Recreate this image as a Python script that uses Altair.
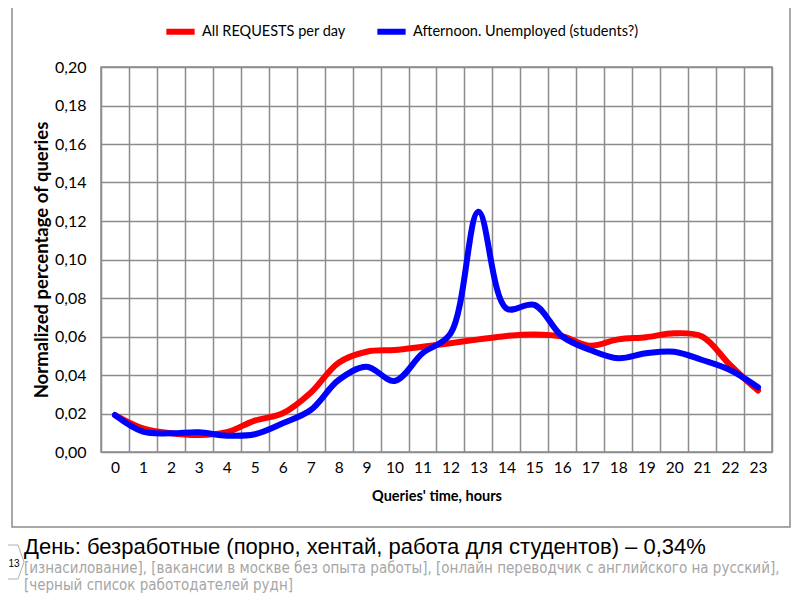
import altair as alt
import pandas as pd

hours = list(range(24))
series_names = ["All REQUESTS per day", "Afternoon. Unemployed (students?)"]
series_colors = ["#ff0000", "#0000ff"]
all_requests = [0.0192, 0.0123, 0.0097, 0.0088, 0.0103, 0.0163, 0.0201, 0.0308,
                0.0464, 0.0521, 0.0530, 0.0547, 0.0565, 0.0585, 0.0603, 0.0611,
                0.0600, 0.0552, 0.0585, 0.0596, 0.0617, 0.0600, 0.0452, 0.0319]
afternoon = [0.0192, 0.0106, 0.0097, 0.0102, 0.0085, 0.0092, 0.0149, 0.0218,
             0.0374, 0.0443, 0.0369, 0.0513, 0.0615, 0.1248, 0.0746, 0.0764,
             0.0600, 0.0530, 0.0487, 0.0513, 0.0521, 0.0478, 0.0426, 0.0336]
y_ticks = [0.0, 0.02, 0.04, 0.06, 0.08, 0.10, 0.12, 0.14, 0.16, 0.18, 0.20]

main_caption = "День: безработные (порно, хентай, работа для студентов) – 0,34%"
gray_line1 = "[изнасилование], [вакансии в москве без опыта работы], [онлайн переводчик с английского на русский],"
gray_line2 = "[черный список работодателей рудн]"
slide_number = "13"

df = pd.DataFrame({
    "hour": hours * 2,
    "value": all_requests + afternoon,
    "series": [series_names[0]] * 24 + [series_names[1]] * 24,
})

color_scale = alt.Scale(domain=series_names, range=series_colors)

x_enc = alt.X(
    "hour:O",
    bandPosition=0.5,
    scale=alt.Scale(type="band", paddingInner=0, paddingOuter=0),
    axis=alt.Axis(
        title="Queries' time, hours", titleFont="Lato", titleFontSize=14.5,
        titleFontWeight="bold", titleColor="#000", titlePadding=14,
        labelFont="Lato", labelFontSize=15.5, labelColor="#000", labelAngle=0,
        labelPadding=8, ticks=False, tickBand="extent", domain=False,
        grid=True, gridColor="#8c8c8c", gridWidth=1.5,
    ),
)
y_enc = alt.Y(
    "value:Q",
    scale=alt.Scale(domain=[0, 0.2], nice=False),
    axis=alt.Axis(
        title="Normalized percentage of queries", titleFont="Lato",
        titleFontSize=18.5, titleFontWeight="bold", titleColor="#000",
        titlePadding=3, values=y_ticks,
        labelExpr="replace(format(datum.value, '.2f'), '.', ',')",
        labelFont="Lato", labelFontSize=16, labelColor="#000", labelPadding=15,
        ticks=False, domain=False, grid=True, gridColor="#8c8c8c", gridWidth=1.5,
    ),
)
color_enc = alt.Color(
    "series:N", scale=color_scale,
    legend=alt.Legend(
        orient="none", legendX=62, legendY=-53, direction="horizontal",
        title=None, symbolType="stroke", symbolStrokeWidth=6, symbolSize=800,
        labelFont="Lato", labelFontSize=14.5, labelColor="#000", labelLimit=0,
        columnPadding=19, labelOffset=4,
    ),
)

base = alt.Chart(df)
red = base.transform_filter(alt.datum.series == series_names[0]).mark_line(
    strokeWidth=6, interpolate="catmull-rom", strokeCap="round", strokeJoin="round"
).encode(x=x_enc, y=y_enc, color=color_enc)
blue = base.transform_filter(alt.datum.series == series_names[1]).mark_line(
    strokeWidth=6, interpolate="catmull-rom", strokeCap="round", strokeJoin="round"
).encode(x=x_enc, y=y_enc, color=color_enc)

one = pd.DataFrame({"k": [0]})
frame = alt.Chart(one).mark_rect(fill=None, stroke="#8c8c8c", strokeWidth=1.5).encode(
    x=alt.value(-89), x2=alt.value(689), y=alt.value(-66), y2=alt.value(460)
)
cap_main = alt.Chart(one).mark_text(
    text=main_caption, align="left", baseline="middle", font="Liberation Sans",
    fontSize=22, color="#000"
).encode(x=alt.value(-77), y=alt.value(480))
cap_g1 = alt.Chart(one).mark_text(
    text=gray_line1, align="left", baseline="middle", font="DejaVu Sans Condensed",
    fontSize=15, color="#a6a6a6"
).encode(x=alt.value(-77), y=alt.value(501))
cap_g2 = alt.Chart(one).mark_text(
    text=gray_line2, align="left", baseline="middle", font="DejaVu Sans Condensed",
    fontSize=15, color="#a6a6a6"
).encode(x=alt.value(-77), y=alt.value(518))
num = alt.Chart(one).mark_text(
    text=slide_number, align="center", baseline="middle", font="Liberation Sans",
    fontSize=10, color="#000"
).encode(x=alt.value(-87), y=alt.value(497))

tab_style = dict(color="#b0b0b0", strokeWidth=1)
tab_top = alt.Chart(one).mark_rule(**tab_style).encode(
    x=alt.value(-93), x2=alt.value(-83), y=alt.value(478), y2=alt.value(478))
tab_d1 = alt.Chart(one).mark_rule(**tab_style).encode(
    x=alt.value(-83), x2=alt.value(-77), y=alt.value(478), y2=alt.value(495))
tab_d2 = alt.Chart(one).mark_rule(**tab_style).encode(
    x=alt.value(-77), x2=alt.value(-83), y=alt.value(495), y2=alt.value(512))
tab_bot = alt.Chart(one).mark_rule(**tab_style).encode(
    x=alt.value(-83), x2=alt.value(-93), y=alt.value(512), y2=alt.value(512))

chart = alt.layer(frame, red, blue, cap_main, cap_g1, cap_g2,
                  tab_top, tab_d1, tab_d2, tab_bot, num).properties(
    width=671, height=385,
    autosize=alt.AutoSizeParams(type="none"),
    padding={"left": 93, "top": 59, "right": 20, "bottom": 143},
    background="#ffffff",
).configure_view(stroke="#8c8c8c", strokeWidth=1.5)

chart.save("out.html", embed_options={"renderer": "svg", "actions": False})
